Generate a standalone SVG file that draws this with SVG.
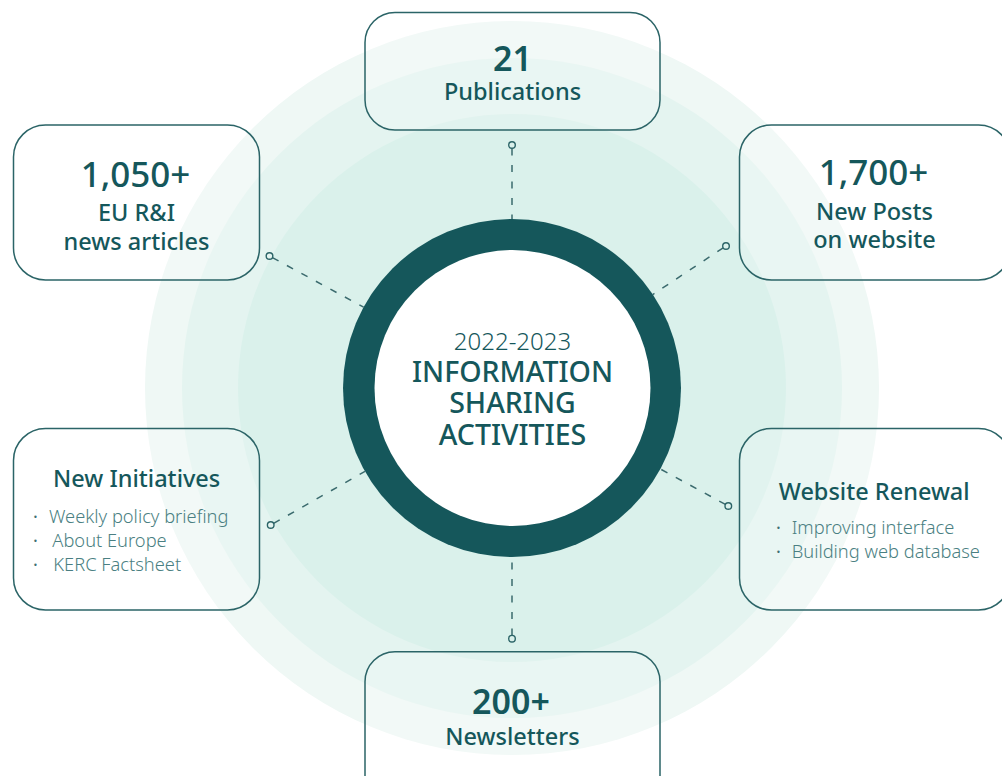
<svg xmlns="http://www.w3.org/2000/svg" width="1002" height="776" viewBox="0 0 1002 776">
<style>
  text { font-family: "Noto Sans", "Open Sans", "DejaVu Sans", sans-serif; fill: #15575b; text-anchor: middle; }
  .num { font-size: 35px; font-weight: 500; }
  .num2 { font-size: 34px; font-weight: 600; }
  .lbl { font-size: 23.5px; font-weight: 500; }
  .head { font-size: 23.5px; font-weight: 500; }
  .item { font-size: 18.3px; font-weight: 300; fill: #4a7f82; text-anchor: start; }
  .dot { font-size: 18px; font-weight: 400; fill: #3d6f72; text-anchor: start; }
  .year { font-size: 24px; font-weight: 300; }
  .title { font-size: 28.5px; font-weight: 500; }
  .box { fill: #ffffff; fill-opacity: 0.2; stroke: #2b6467; stroke-width: 1.5; }
  .conn { stroke: #3b6b6e; stroke-width: 1.5; stroke-dasharray: 7 9.5; fill: none; }
  .pin { fill: none; stroke: #2b6467; stroke-width: 1.4; }
</style>
<rect width="1002" height="776" fill="#ffffff"/>
<g id="rings">
  <circle cx="512" cy="388" r="367" fill="#eff8f5"/>
  <circle cx="512" cy="388" r="330" fill="#e4f4f0"/>
  <circle cx="512" cy="388" r="274" fill="#daf1eb"/>
</g>
<g id="connectors">
  <line class="conn" x1="512" y1="148.5" x2="512" y2="219"/>
  <circle class="pin" cx="512" cy="145" r="3.3"/>
  <line class="conn" x1="512" y1="635.5" x2="512" y2="557"/>
  <circle class="pin" cx="512" cy="638.7" r="3.3"/>
  <line class="conn" x1="272.4" y1="257.6" x2="363.6" y2="307.2"/>
  <circle class="pin" cx="269.5" cy="256" r="3.3"/>
  <line class="conn" x1="723.2" y1="247.8" x2="652.8" y2="294.5"/>
  <circle class="pin" cx="726" cy="246" r="3.3"/>
  <line class="conn" x1="273.6" y1="523.4" x2="365" y2="471.4"/>
  <circle class="pin" cx="270.7" cy="525" r="3.3"/>
  <line class="conn" x1="725.4" y1="504.4" x2="660.4" y2="469"/>
  <circle class="pin" cx="728.3" cy="506" r="3.3"/>
</g>
<g id="center">
  <circle cx="512" cy="388" r="169" fill="#15575b"/>
  <circle cx="512.5" cy="388" r="138" fill="#ffffff"/>
  <text class="year" x="512.5" y="350">2022-2023</text>
  <text class="title" x="512.5" y="382.3">INFORMATION</text>
  <text class="title" x="512.5" y="413.3">SHARING</text>
  <text class="title" x="512.5" y="445">ACTIVITIES</text>
</g>
<g id="publications">
  <rect class="box" x="365" y="12.5" width="295" height="117.5" rx="30"/>
  <text class="num2" x="512.5" y="70.7">21</text>
  <text class="lbl" x="512.5" y="100">Publications</text>
</g>
<g id="news-articles">
  <rect class="box" x="13.5" y="125" width="246" height="155" rx="32"/>
  <text class="num" x="135.5" y="187.3">1,050+</text>
  <text class="lbl" x="136.5" y="221">EU R&amp;I</text>
  <text class="lbl" x="136.5" y="250">news articles</text>
</g>
<g id="new-posts">
  <rect class="box" x="739.5" y="125" width="271" height="155" rx="32"/>
  <text class="num" x="873.5" y="185">1,700+</text>
  <text class="lbl" x="874.5" y="220">New Posts</text>
  <text class="lbl" x="874.5" y="248.3">on website</text>
</g>
<g id="new-initiatives">
  <rect class="box" x="13.5" y="428.5" width="246" height="181.5" rx="32"/>
  <text class="head" x="136.7" y="487.3">New Initiatives</text>
  <text class="dot" x="33" y="523.3">·</text>
  <text class="item" x="49" y="523.3">Weekly policy briefing</text>
  <text class="dot" x="33" y="547.3">·</text>
  <text class="item" x="52.3" y="547.3">About Europe</text>
  <text class="dot" x="33" y="571.3">·</text>
  <text class="item" x="53.3" y="571.3">KERC Factsheet</text>
</g>
<g id="website-renewal">
  <rect class="box" x="739.5" y="428.5" width="271" height="181.5" rx="32"/>
  <text class="head" x="874.2" y="500">Website Renewal</text>
  <text class="dot" x="776" y="534">·</text>
  <text class="item" x="791.7" y="534">Improving interface</text>
  <text class="dot" x="776" y="558.3">·</text>
  <text class="item" x="791.7" y="558.3">Building web database</text>
</g>
<g id="newsletters">
  <rect class="box" x="365" y="651.7" width="295" height="160" rx="30"/>
  <text class="num2" x="511" y="714">200+</text>
  <text class="lbl" x="512.5" y="745">Newsletters</text>
</g>
</svg>
